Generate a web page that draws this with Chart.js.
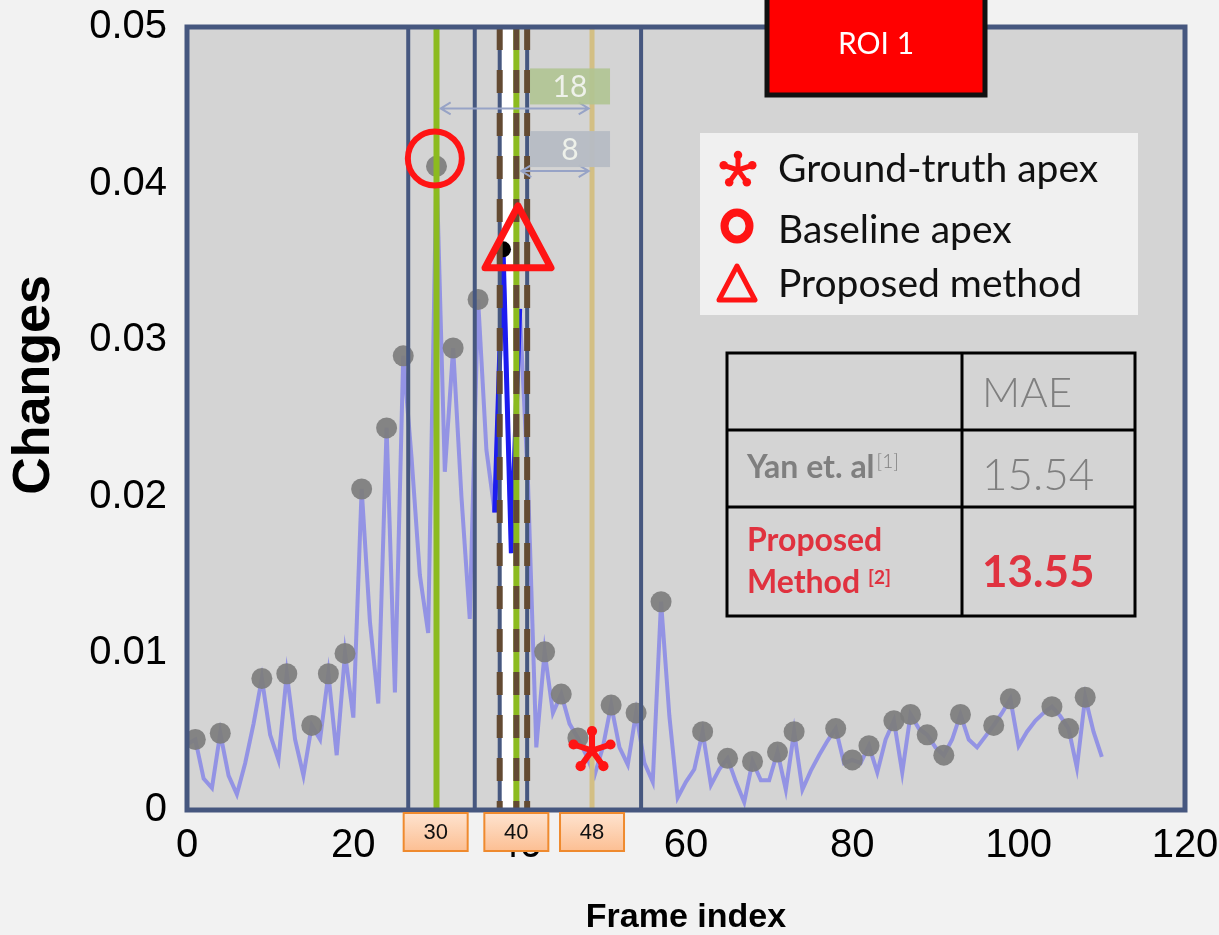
<!DOCTYPE html>
<html>
<head>
<meta charset="utf-8">
<script src="https://cdn.jsdelivr.net/npm/chart.js@4.4.1/dist/chart.umd.min.js"></script>
<style>
  html, body { margin: 0; padding: 0; background: #f2f2f2; }
  #wrap { width: 1219px; height: 935px; }
</style>
</head>
<body>
<div id="wrap"><canvas id="grafico" width="1219" height="935"></canvas></div>
<script>
// valores por frame (0..110)
const changes = [
  0.0042, 0.0045, 0.0020, 0.0014, 0.0049, 0.0022, 0.0010, 0.0030, 0.0055, 0.0084,
  0.0048, 0.0032, 0.0087, 0.0045, 0.0022, 0.0054, 0.0045, 0.0087, 0.0035, 0.0100,
  0.0059, 0.0205, 0.0120, 0.0068, 0.0244, 0.0075, 0.0290, 0.0225, 0.0150, 0.0113,
  0.0411, 0.0216, 0.0295, 0.0200, 0.0122, 0.0326, 0.0230, 0.0190, 0.0358, 0.0164,
  0.0320, 0.0209, 0.0040, 0.0101, 0.0062, 0.0074, 0.0055, 0.0046, 0.0035, 0.0022,
  0.0040, 0.0067, 0.0040, 0.0029, 0.0062, 0.0030, 0.0018, 0.0133, 0.0060, 0.0008,
  0.0018, 0.0026, 0.0050, 0.0016, 0.0026, 0.0033, 0.0018, 0.0005, 0.0031, 0.0019,
  0.0019, 0.0037, 0.0013, 0.0050, 0.0013, 0.0025, 0.0035, 0.0044, 0.0052, 0.0030,
  0.0032, 0.0030, 0.0041, 0.0024, 0.0045, 0.0057, 0.0024, 0.0061, 0.0052, 0.0048,
  0.0040, 0.0035, 0.0045, 0.0061, 0.0045, 0.0040, 0.0047, 0.0054, 0.0062, 0.0071,
  0.0041, 0.0050, 0.0057, 0.0062, 0.0066, 0.0060, 0.0052, 0.0027, 0.0072, 0.0050,
  0.0034
];
const picos = [1, 4, 9, 12, 15, 17, 19, 21, 24, 26, 30, 32, 35, 43, 45, 47, 51, 54, 57,
  62, 65, 68, 71, 73, 78, 80, 82, 85, 87, 89, 91, 93, 97, 99, 104, 106, 108];
const destaque = [37, 38, 39, 40];

const xTicks = [0, 20, 40, 60, 80, 100, 120];
const yTicks = [0, 0.01, 0.02, 0.03, 0.04, 0.05];

// linhas verticais (em frames)
const linhasAzuis = [26.6, 34.6, 37.6, 40.9, 54.6];
const linhaVerde = 30;
const linhaVerdeTracejada = 39.6;
const linhasMarrons = [37.6, 40.9];
const linhaBege = 48.7;
const faixaBranca = [37.7, 39.4];

// marcadores: verdade, baseline, proposto
const apexFrames = [48.7, 29.8, 39.8];
const apexValores = [0.0038, 0.0416, 0.0366];

// caixas de rótulo em baixo
const rotulosFrames = [29.9, 39.6, 48.7];
const rotulosTexto = ['30', '40', '48'];

// setas de distância
const setas = [
  { de: 30.5, ate: 48.3, y: 0.0448, texto: '18', cor: 'rgba(176,196,146,0.9)' },
  { de: 40.2, ate: 48.3, y: 0.0408, texto: '8', cor: 'rgba(182,188,196,0.95)' }
];

const legendaTextos = ['Ground-truth apex', 'Baseline apex', 'Proposed method'];
const tabelaMetodos = ['Yan et. al', 'Proposed Method'];
const tabelaMAE = ['15.54', '13.55'];

const NAVY = '#46577f';
const VERMELHO = '#ff1414';
const FONTE = 'Lato, "Open Sans", sans-serif';

function asterisco(ctx, x, y, r, w) {
  ctx.save();
  ctx.strokeStyle = VERMELHO;
  ctx.fillStyle = VERMELHO;
  ctx.lineWidth = w;
  ctx.lineCap = 'round';
  for (let k = 0; k < 5; k++) {
    const ang = -Math.PI / 2 + k * 2 * Math.PI / 5;
    const ex = x + (r - w * 0.6) * Math.cos(ang);
    const ey = y + (r - w * 0.6) * Math.sin(ang);
    ctx.beginPath();
    ctx.moveTo(x, y);
    ctx.lineTo(ex, ey);
    ctx.stroke();
    ctx.beginPath();
    ctx.arc(ex, ey, w * 0.85, 0, Math.PI * 2);
    ctx.fill();
  }
  ctx.restore();
}

function triangulo(ctx, cx, cy, meiaBase, altura, lw) {
  ctx.save();
  ctx.strokeStyle = VERMELHO;
  ctx.lineWidth = lw;
  ctx.lineJoin = 'round';
  ctx.beginPath();
  ctx.moveTo(cx, cy - altura / 2);
  ctx.lineTo(cx + meiaBase, cy + altura / 2);
  ctx.lineTo(cx - meiaBase, cy + altura / 2);
  ctx.closePath();
  ctx.stroke();
  ctx.restore();
}

function linhaVertical(chart, f, cor, largura, dash) {
  const ctx = chart.ctx;
  const a = chart.chartArea;
  const x = chart.scales.x.getPixelForValue(f);
  ctx.save();
  ctx.strokeStyle = cor;
  ctx.lineWidth = largura;
  ctx.setLineDash(dash || []);
  ctx.beginPath();
  ctx.moveTo(x, a.top);
  ctx.lineTo(x, a.bottom);
  ctx.stroke();
  ctx.restore();
}

function seta(ctx, x1, x2, y, cor) {
  ctx.save();
  ctx.strokeStyle = cor;
  ctx.lineWidth = 2;
  ctx.beginPath();
  ctx.moveTo(x1, y); ctx.lineTo(x2, y);
  ctx.moveTo(x1 + 10, y - 6); ctx.lineTo(x1, y); ctx.lineTo(x1 + 10, y + 6);
  ctx.moveTo(x2 - 10, y - 6); ctx.lineTo(x2, y); ctx.lineTo(x2 - 10, y + 6);
  ctx.stroke();
  ctx.restore();
}

const decoracao = {
  id: 'decoracao',
  beforeDatasetsDraw(chart) {
    const { ctx, chartArea: a, scales: { x } } = chart;
    ctx.save();
    ctx.fillStyle = '#d4d4d4';
    ctx.fillRect(a.left, a.top, a.right - a.left, a.bottom - a.top);
    const x1 = x.getPixelForValue(faixaBranca[0]);
    const x2 = x.getPixelForValue(faixaBranca[1]);
    ctx.fillStyle = '#ffffff';
    ctx.fillRect(x1, a.top, x2 - x1, a.bottom - a.top);
    ctx.restore();
  },
  afterDatasetsDraw(chart) {
    const { ctx, chartArea: a } = chart;
    linhasAzuis.forEach(f => linhaVertical(chart, f, NAVY, 4));
    linhaVertical(chart, linhaVerde, '#8cbb1f', 6);
    linhaVertical(chart, linhaVerdeTracejada, '#8cbb1f', 6);
    linhaVertical(chart, linhaVerdeTracejada, '#634a32', 6, [23, 20]);
    linhasMarrons.forEach(f => linhaVertical(chart, f, '#634a32', 6, [23, 20]));
    linhaVertical(chart, linhaBege, '#d3bf84', 5);

    ctx.save();
    ctx.strokeStyle = NAVY;
    ctx.lineWidth = 5;
    ctx.strokeRect(a.left, a.top, a.right - a.left, a.bottom - a.top);
    ctx.restore();
  },
  afterDraw(chart) {
    const { ctx, chartArea: a, scales: { x, y } } = chart;

    // setas e caixas 18 / 8
    setas.forEach(s => {
      const x1 = x.getPixelForValue(s.de);
      const x2 = x.getPixelForValue(s.ate);
      const yy = y.getPixelForValue(s.y);
      seta(ctx, x1, x2, yy, '#97a3c6');
      const bx = x.getPixelForValue(linhaBege);
      ctx.save();
      ctx.fillStyle = s.cor;
      ctx.fillRect(bx - 62, yy - 40, 80, 36);
      ctx.fillStyle = '#eef1ea';
      ctx.font = '30px ' + FONTE;
      ctx.textAlign = 'center';
      ctx.textBaseline = 'middle';
      ctx.fillText(s.texto, bx - 22, yy - 21);
      ctx.restore();
    });

    // marcadores
    asterisco(ctx, x.getPixelForValue(apexFrames[0]), y.getPixelForValue(apexValores[0]), 23, 6);
    ctx.save();
    ctx.strokeStyle = VERMELHO;
    ctx.lineWidth = 6;
    ctx.beginPath();
    ctx.arc(x.getPixelForValue(apexFrames[1]), y.getPixelForValue(apexValores[1]), 27, 0, Math.PI * 2);
    ctx.stroke();
    ctx.restore();
    triangulo(ctx, x.getPixelForValue(apexFrames[2]), y.getPixelForValue(apexValores[2]), 33, 62, 7);

    // legenda
    ctx.save();
    ctx.fillStyle = '#f0f0f0';
    ctx.fillRect(700, 133, 438, 182);
    asterisco(ctx, 738, 170, 18, 5);
    ctx.strokeStyle = VERMELHO;
    ctx.lineWidth = 8;
    ctx.beginPath();
    ctx.ellipse(737, 226, 12.5, 13.5, 0, 0, Math.PI * 2);
    ctx.stroke();
    ctx.restore();
    triangulo(ctx, 737, 283, 18, 34, 5);
    ctx.save();
    ctx.fillStyle = '#111';
    ctx.font = '39px ' + FONTE;
    ctx.textBaseline = 'middle';
    ctx.fillText(legendaTextos[0], 778, 169);
    ctx.fillText(legendaTextos[1], 778, 230);
    ctx.fillText(legendaTextos[2], 778, 284);
    ctx.restore();

    // tabela MAE
    ctx.save();
    ctx.strokeStyle = '#000';
    ctx.lineWidth = 3;
    ctx.strokeRect(727, 353, 408, 263);
    ctx.beginPath();
    ctx.moveTo(727, 430); ctx.lineTo(1135, 430);
    ctx.moveTo(727, 507); ctx.lineTo(1135, 507);
    ctx.moveTo(962, 353); ctx.lineTo(962, 616);
    ctx.stroke();
    ctx.textBaseline = 'middle';
    ctx.fillStyle = '#7f7f7f';
    ctx.font = '300 42px ' + FONTE;
    ctx.fillText('MAE', 982, 393);
    ctx.font = 'bold 32px ' + FONTE;
    ctx.fillText(tabelaMetodos[0], 747, 468);
    let w = ctx.measureText(tabelaMetodos[0]).width;
    ctx.font = '300 19px ' + FONTE;
    ctx.fillText('[1]', 747 + w + 2, 462);
    ctx.font = '300 44px ' + FONTE;
    ctx.fillText(tabelaMAE[0], 982, 476);
    ctx.fillStyle = '#e0323f';
    ctx.font = 'bold 32px ' + FONTE;
    const partes = tabelaMetodos[1].split(' ');
    ctx.fillText(partes[0], 747, 541);
    ctx.fillText(partes[1], 747, 583);
    w = ctx.measureText(partes[1] + ' ').width;
    ctx.font = 'bold 19px ' + FONTE;
    ctx.fillText('[2]', 747 + w, 578);
    ctx.font = 'bold 44px ' + FONTE;
    ctx.fillText(tabelaMAE[1], 982, 573);
    ctx.restore();

    // caixa ROI 1
    ctx.save();
    ctx.fillStyle = '#ff0000';
    ctx.fillRect(765, -6, 222, 103);
    ctx.strokeStyle = '#111';
    ctx.lineWidth = 5;
    ctx.strokeRect(767, -6, 218, 101);
    ctx.fillStyle = '#fff';
    ctx.font = '30px ' + FONTE;
    ctx.textAlign = 'center';
    ctx.textBaseline = 'middle';
    ctx.fillText('ROI 1', 876, 44);
    ctx.restore();

    // caixas laranja com os frames
    rotulosFrames.forEach((f, i) => {
      const cx = x.getPixelForValue(f);
      const top = a.bottom + 3;
      const g = ctx.createLinearGradient(0, top, 0, top + 38);
      g.addColorStop(0, '#fee3cf');
      g.addColorStop(1, '#fcbf93');
      ctx.save();
      ctx.fillStyle = g;
      ctx.fillRect(cx - 32, top, 64, 38);
      ctx.strokeStyle = '#ef8a2e';
      ctx.lineWidth = 2;
      ctx.strokeRect(cx - 32, top, 64, 38);
      ctx.fillStyle = '#111';
      ctx.font = '22px "Liberation Sans", Arial, sans-serif';
      ctx.textAlign = 'center';
      ctx.textBaseline = 'middle';
      ctx.fillText(rotulosTexto[i], cx, top + 20);
      ctx.restore();
    });

    // título do eixo Y
    ctx.save();
    ctx.translate(35, 385);
    ctx.rotate(-Math.PI / 2);
    ctx.fillStyle = '#000';
    ctx.font = 'bold 52px "Liberation Sans", Arial, sans-serif';
    ctx.textAlign = 'center';
    ctx.textBaseline = 'middle';
    ctx.fillText('Changes', 0, 0);
    ctx.restore();
  }
};

const ctx = document.getElementById('grafico').getContext('2d');
new Chart(ctx, {
  type: 'line',
  data: {
    datasets: [
      {
        label: 'destaque',
        data: destaque.map(f => ({ x: f, y: changes[f] })),
        borderColor: '#1c1cf0',
        borderWidth: 5,
        pointRadius: destaque.map(f => (f === 38 ? 8 : 0)),
        pointBackgroundColor: '#000',
        pointBorderWidth: 0,
        order: 1
      },
      {
        label: 'picos',
        data: picos.map(f => ({ x: f, y: changes[f] })),
        showLine: false,
        pointRadius: 10.5,
        pointBackgroundColor: 'rgba(125,125,125,0.92)',
        pointBorderWidth: 0,
        order: 2
      },
      {
        label: 'Changes',
        data: changes.map((v, i) => ({ x: i, y: v })),
        borderColor: 'rgba(128,128,232,0.78)',
        borderWidth: 4,
        pointRadius: 0,
        tension: 0,
        order: 3
      }
    ]
  },
  options: {
    responsive: false,
    animation: false,
    layout: { padding: { top: 27, right: 34, left: 0, bottom: 0 } },
    plugins: { legend: { display: false }, tooltip: { enabled: false } },
    scales: {
      x: {
        type: 'linear',
        min: 0,
        max: 120,
        afterBuildTicks: s => { s.ticks = xTicks.map(v => ({ value: v })); },
        afterFit: s => { s.height = 125; s.paddingLeft = 0; s.paddingRight = 0; },
        grid: { display: false, drawTicks: false },
        border: { display: false },
        ticks: {
          padding: 12,
          maxRotation: 0,
          autoSkip: false,
          color: '#000',
          font: { family: '"Liberation Sans", Arial, sans-serif', size: 40 }
        },
        title: {
          display: true,
          text: 'Frame index',
          color: '#000',
          padding: { top: 0, bottom: 0 },
          font: { family: '"Liberation Sans", Arial, sans-serif', size: 34, weight: 'bold', lineHeight: 1 }
        }
      },
      y: {
        min: 0,
        max: 0.05,
        afterBuildTicks: s => { s.ticks = yTicks.map(v => ({ value: v })); },
        afterFit: s => { s.width = 187; s.paddingTop = 0; s.paddingBottom = 0; },
        grid: { display: false, drawTicks: false },
        border: { display: false },
        ticks: {
          padding: 20,
          color: '#000',
          font: { family: '"Liberation Sans", Arial, sans-serif', size: 40 },
          callback: v => (v === 0 ? '0' : v.toFixed(2))
        }
      }
    }
  },
  plugins: [decoracao]
});
</script>
</body>
</html>
